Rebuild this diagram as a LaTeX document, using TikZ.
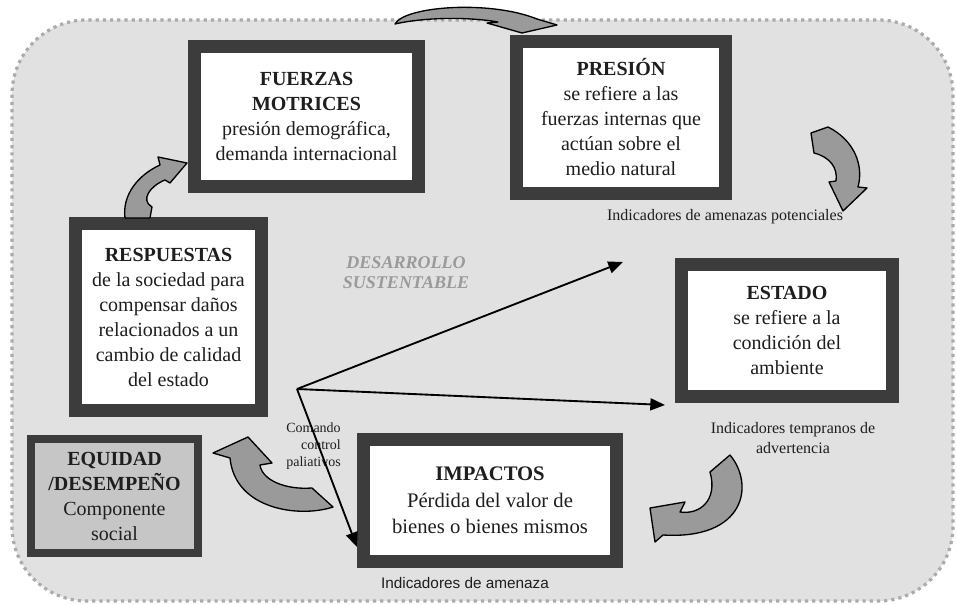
\documentclass[tikz,border=0pt]{standalone}
\usepackage{fontspec}
\setmainfont{Liberation Serif}
\newfontfamily\labelsans{Liberation Sans}
\usetikzlibrary{arrows.meta}
\definecolor{boxgray}{HTML}{3C3C3C}
\definecolor{bgfill}{HTML}{E1E1E1}
\definecolor{dotgray}{HTML}{ABABAB}
\definecolor{arrowfill}{HTML}{9A9A9A}
\definecolor{equfill}{HTML}{C6C6C6}
\definecolor{textdark}{HTML}{1E1E1E}
\definecolor{devgray}{HTML}{9A9A9A}
\tikzset{
  mainbox/.style={draw=boxgray, line width=9.75pt, fill=white, inner sep=0pt,
    align=center, text=textdark, font=\fontsize{15}{18.75}\selectfont},
  equbox/.style={draw=boxgray, line width=6pt, fill=equfill, inner sep=0pt,
    align=center, text=textdark, font=\fontsize{15}{18.75}\selectfont},
  blockarrow/.style={fill=arrowfill, draw=black, line width=1pt, line join=round},
  link/.style={draw=black, line width=1.4pt, -{Triangle[length=11pt,width=9pt]}},
  smalltext/.style={font=\fontsize{12}{15}\selectfont, text=textdark, inner sep=0pt, align=center},
}
\begin{document}
\begin{tikzpicture}[x=0.75pt,y=-0.75pt]
\useasboundingbox (0,0) rectangle (957,605);
% background
\draw[fill=bgfill, draw=dotgray, line width=2.4pt, dash pattern=on 2.4pt off 3pt, rounded corners=56pt]
  (12,20) rectangle (953,601);

% boxes
\node[mainbox, minimum width=168pt, minimum height=105pt] (fuerzas) at (306.5,116.5)
  {\textbf{FUERZAS}\\\textbf{MOTRICES}\\presión demográfica,\\demanda internacional};
\node[mainbox, minimum width=156.75pt, minimum height=114pt] (presion) at (621,117.5)
  {\textbf{PRESIÓN}\\se refiere a las\\fuerzas internas que\\actúan sobre el\\medio natural};
\node[mainbox, minimum width=139.5pt, minimum height=140.25pt] (respuestas) at (168.5,317)
  {\textbf{RESPUESTAS}\\de la sociedad para\\compensar daños\\relacionados a un\\cambio de calidad\\del estado};
\node[mainbox, minimum width=158.25pt, minimum height=99pt] (estado) at (787,330.5)
  {\textbf{ESTADO}\\se refiere a la\\condición del\\ambiente};
\node[mainbox, minimum width=189.75pt, minimum height=91.5pt,
      font=\fontsize{15.5}{20}\selectfont] (impactos) at (490,500.5)
  {\textbf{IMPACTOS}\\Pérdida del valor de\\bienes o bienes mismos};
\node[equbox, minimum width=125.25pt, minimum height=85.5pt] (equidad) at (114.5,496)
  {\textbf{EQUIDAD}\\\textbf{/DESEMPEÑO}\\Componente\\social};

% small texts
\node[smalltext] (ind1) at (725,217) {Indicadores de amenazas potenciales};
\node[smalltext] (ind2) at (793,438) {Indicadores tempranos de\\advertencia};
\node[smalltext, font=\labelsans\fontsize{11.5}{14}\selectfont] (ind3) at (465,583) {Indicadores de amenaza};
\node[inner sep=0pt, align=center, text=devgray, font=\fontsize{13.5}{15}\selectfont\bfseries\itshape] (desarrollo) at (406,273)
  {DESARROLLO\\SUSTENTABLE};
\node[inner sep=0pt, align=right, anchor=east, text=textdark, font=\fontsize{10.5}{13}\selectfont] (comando) at (341,446)
  {Comando\\control\\paliativos};

% links from hub
\coordinate (hub) at (297,389);
\coordinate (p1) at (623,262);
\coordinate (p2) at (665,405);
\coordinate (p3) at (357,547);
\draw[link] (hub) -- (p1);
\draw[link] (hub) -- (p2);
\draw[link] (hub) -- (p3);

% block arrows
\draw[blockarrow] (395,24) .. controls (405,6) and (490,0) .. (537,19) -- (557,25) -- (522,33) -- (487,23) -- (498,22)
  .. controls (470,17) and (425,17) .. (395,24) -- cycle;
\draw[blockarrow] (811,133) -- (828,127) .. controls (854,140) and (864,165) .. (858,187) -- (867,188) -- (843,211)
  -- (829,182) -- (836,181) .. controls (838,168) and (830,157) .. (814,153) -- cycle;
\draw[blockarrow] (710,472) -- (730,455) .. controls (755,485) and (745,540) .. (663,535) -- (655,542) -- (650,508)
  -- (685,502) -- (680,512) .. controls (700,515) and (718,500) .. (710,472) -- cycle;
\draw[blockarrow] (312,488) -- (333,507) .. controls (300,518) and (235,510) .. (230,458) -- (213,453) -- (248,437)
  -- (272,463) -- (260,465) .. controls (262,480) and (285,490) .. (312,488) -- cycle;
\draw[blockarrow] (125,218) .. controls (122,195) and (138,175) .. (160,165) -- (158,157) -- (187,163) -- (170,183)
  -- (165,180) .. controls (150,186) and (140,200) .. (152,207) -- (150,218) -- cycle;
\end{tikzpicture}
\end{document}
